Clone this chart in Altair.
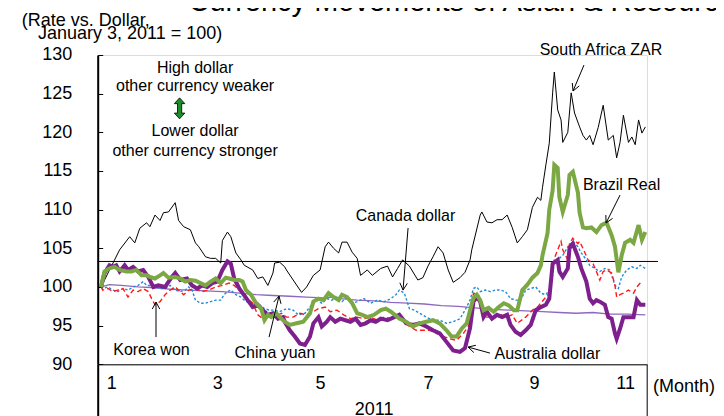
import math
import altair as alt
import pandas as pd

FONT = "Liberation Sans"

# ---------------- data (x = day of year 2011, y = index, Jan 3 2011 = 100) ----------------
months = ["1", "3", "5", "7", "9", "11"]
month_days = [9, 72, 133, 197, 260, 314]
y_ticks = [90, 95, 100, 105, 110, 115, 120, 125, 130]
reference_level = 103.3

zar_day = [3, 11, 14, 20, 23, 26, 30, 32, 35, 38, 40, 43, 46, 47, 49, 52, 56, 59, 61, 65, 68, 71, 74, 75, 78, 80,
           83, 86, 88, 93, 96, 99, 102, 105, 106, 109, 112, 113, 117, 122, 125, 129, 133, 136, 138, 141, 144, 146,
           149, 152, 155, 157, 161, 164, 169, 173, 176, 179, 182, 186, 191, 194, 197, 200, 203, 206, 209, 212, 216,
           219, 222, 223, 228, 229, 232, 235, 238, 241, 244, 247, 250, 253, 256, 259, 262, 264, 265, 267, 269, 271,
           272, 274, 276, 277, 280, 282, 284, 287, 289, 291, 293, 295, 298, 301, 304, 307, 309, 311, 313, 316, 318,
           320, 322, 324, 326]
zar_val = [100.0, 103.5, 104.8, 106.5, 105.7, 107.6, 108.3, 107.8, 109.3, 108.6, 109.6, 109.7, 110.6, 110.9, 108.6,
           107.8, 107.4, 105.7, 105.2, 103.9, 103.7, 103.7, 103.1, 106.0, 107.1, 106.5, 104.4, 103.5, 102.8, 102.2,
           101.1, 101.3, 100.2, 101.8, 103.1, 103.2, 102.6, 102.2, 100.9, 99.3, 100.0, 101.5, 102.2, 105.2, 105.8,
           105.0, 104.4, 105.8, 105.8, 104.5, 103.7, 101.5, 102.2, 101.5, 102.4, 102.7, 101.3, 102.4, 103.5, 102.7,
           100.9, 101.2, 102.7, 103.9, 105.2, 104.4, 102.2, 100.6, 101.2, 101.9, 103.5, 104.8, 109.3, 109.7, 108.4,
           108.3, 108.7, 108.7, 109.3, 107.7, 105.7, 106.5, 107.4, 110.3, 111.6, 111.2, 112.9, 115.8, 118.6, 125.1,
           127.8, 122.9, 121.6, 118.7, 120.0, 125.1, 122.5, 120.7, 119.6, 119.0, 119.6, 118.4, 120.6, 123.5, 119.0,
           119.6, 116.7, 118.7, 122.2, 118.7, 119.4, 118.4, 121.6, 119.9, 120.7]

brl_day = [3, 5, 8, 11, 14, 18, 21, 24, 27, 30, 32, 35, 38, 40, 43, 47, 50, 53, 56, 59, 62, 65, 68, 71, 74, 77, 79,
           82, 85, 87, 89, 92, 95, 98, 100, 102, 104, 107, 109, 112, 115, 119, 123, 127, 129, 132, 135, 138, 141, 144,
           146, 149, 152, 155, 158, 161, 165, 169, 172, 175, 179, 180, 184, 188, 192, 196, 200, 204, 208, 211, 214,
           217, 220, 222, 224, 226, 228, 230, 233, 236, 239, 242, 245, 248, 250, 253, 256, 259, 262, 264, 265, 268,
           269, 271, 272, 274, 275, 277, 280, 281, 283, 286, 287, 289, 291, 294, 297, 300, 303, 306, 308, 310, 312,
           314, 317, 319, 322, 324, 326]
brl_val = [100.0, 102.0, 102.4, 102.6, 102.2, 102.0, 102.0, 102.2, 101.5, 101.5, 101.3, 101.1, 101.5, 101.8, 101.2,
           101.3, 101.1, 100.7, 100.9, 100.8, 100.5, 100.2, 100.7, 101.1, 100.5, 101.2, 101.1, 100.9, 100.9, 100.7,
           99.6, 99.0, 97.9, 97.2, 95.7, 96.4, 96.1, 96.6, 96.1, 95.5, 95.1, 95.3, 95.5, 96.6, 98.1, 98.5, 98.3, 99.2,
           98.7, 98.3, 99.0, 98.7, 97.9, 96.6, 96.4, 96.1, 96.4, 97.0, 97.2, 96.8, 96.1, 95.9, 95.5, 94.9, 95.3, 95.5,
           95.7, 95.3, 94.4, 93.6, 93.6, 94.6, 95.3, 97.0, 98.6, 99.0, 98.3, 97.0, 97.3, 96.8, 97.4, 97.9, 97.6, 97.0,
           97.0, 99.6, 100.3, 101.2, 101.8, 102.8, 104.1, 107.0, 110.0, 112.5, 115.8, 115.4, 111.6, 109.7, 111.9,
           114.5, 114.9, 112.2, 109.6, 107.7, 107.6, 107.7, 107.1, 108.0, 108.3, 106.7, 105.2, 101.9, 104.1, 105.7,
           106.1, 105.7, 108.0, 106.1, 107.1]

aud_day = [3, 5, 8, 10, 12, 14, 17, 19, 22, 25, 28, 31, 34, 37, 41, 45, 47, 50, 54, 57, 60, 63, 66, 69, 72, 75, 78,
           80, 82, 85, 87, 90, 93, 96, 99, 102, 105, 108, 111, 112, 115, 118, 121, 124, 127, 129, 132, 134, 137, 139,
           142, 145, 148, 151, 154, 157, 160, 163, 166, 169, 173, 177, 180, 184, 188, 192, 196, 200, 204, 208, 212,
           216, 219, 222, 224, 226, 228, 230, 232, 235, 238, 241, 244, 246, 249, 252, 255, 258, 261, 264, 267, 269,
           271, 274, 275, 277, 280, 281, 283, 286, 288, 291, 293, 295, 297, 299, 302, 304, 306, 308, 309, 311, 313,
           316, 319, 321, 323, 326]
aud_val = [100.0, 101.8, 102.8, 102.6, 102.8, 102.0, 102.8, 102.2, 102.6, 102.0, 102.2, 101.3, 100.0, 100.2, 100.0,
           101.3, 101.8, 100.9, 101.1, 100.2, 99.8, 100.2, 100.0, 100.5, 100.7, 102.2, 103.3, 103.0, 101.1, 99.8,
           99.2, 98.3, 97.4, 97.7, 97.0, 96.4, 96.6, 95.9, 96.1, 95.5, 94.4, 93.6, 92.7, 92.5, 93.6, 95.3, 96.1, 94.9,
           95.5, 96.1, 95.5, 95.9, 95.7, 95.5, 95.9, 95.1, 95.3, 95.7, 95.5, 95.9, 95.7, 96.1, 96.4, 95.3, 95.1, 95.3,
           94.9, 94.4, 94.0, 92.9, 91.8, 91.6, 92.1, 94.7, 98.1, 98.7, 98.1, 96.1, 96.8, 95.9, 96.4, 96.1, 96.4, 95.1,
           94.2, 93.8, 94.4, 95.1, 97.0, 97.4, 97.7, 98.5, 103.0, 103.5, 102.0, 101.3, 102.4, 105.0, 105.6, 103.9,
           102.4, 100.7, 98.5, 97.9, 98.3, 98.1, 97.7, 96.1, 95.9, 94.0, 93.3, 94.6, 96.1, 96.1, 96.1, 98.3, 97.7,
           97.7]

krw_day = [3, 4, 7, 10, 13, 16, 19, 22, 25, 28, 31, 33, 35, 38, 41, 44, 47, 50, 52, 55, 59, 63, 67, 71, 75, 79, 82,
           85, 87, 90, 93, 96, 99, 102, 106, 110, 113, 117, 121, 125, 129, 132, 136, 139, 143, 147, 151, 155, 159,
           163, 167, 171, 175, 179, 182, 186, 190, 194, 198, 202, 206, 210, 214, 218, 221, 224, 227, 229, 231, 235,
           239, 243, 247, 250, 255, 259, 262, 267, 269, 271, 272, 274, 276, 277, 280, 281, 283, 286, 287, 289, 292,
           295, 297, 299, 301, 303, 306, 308, 309, 311, 313, 316, 319, 321, 323, 324]
krw_val = [100.0, 99.6, 99.8, 99.4, 99.6, 99.8, 98.7, 99.6, 99.4, 99.8, 99.4, 98.5, 97.7, 98.1, 99.0, 99.6, 100.0,
           99.4, 99.0, 99.6, 99.8, 99.4, 99.6, 100.0, 100.2, 100.5, 100.2, 99.6, 99.4, 98.5, 97.9, 96.4, 95.9, 96.4,
           96.1, 96.6, 96.1, 96.1, 96.6, 96.4, 96.8, 97.2, 97.4, 96.8, 97.0, 96.4, 95.9, 96.1, 95.9, 96.1, 95.7, 96.1,
           95.9, 96.4, 95.7, 94.9, 94.4, 94.4, 94.4, 94.0, 93.6, 93.3, 93.1, 94.0, 94.9, 99.2, 99.0, 97.0, 96.1, 96.1,
           96.6, 96.1, 96.4, 95.3, 96.1, 97.0, 97.4, 98.7, 99.2, 101.5, 103.7, 104.8, 105.9, 104.8, 103.5, 105.6,
           106.3, 105.6, 105.9, 105.0, 103.5, 103.0, 102.0, 100.9, 102.0, 102.2, 101.8, 100.2, 98.7, 99.0, 99.2,
           99.6, 99.2, 100.0, 100.5, 100.7]

cad_day = [3, 4, 7, 10, 13, 16, 19, 22, 25, 28, 30, 33, 35, 38, 41, 44, 47, 50, 53, 55, 57, 59, 62, 65, 68, 71, 74,
           76, 78, 80, 83, 86, 88, 91, 94, 97, 100, 103, 106, 109, 113, 117, 120, 124, 128, 131, 134, 137, 140, 143,
           146, 149, 152, 155, 159, 163, 167, 171, 175, 178, 180, 183, 186, 189, 192, 196, 200, 204, 208, 212, 216,
           219, 222, 224, 226, 228, 231, 234, 237, 240, 243, 246, 249, 252, 255, 258, 261, 264, 267, 269, 271, 274,
           277, 280, 283, 286, 288, 291, 293, 296, 299, 302, 305, 308, 310, 312, 315, 318, 321, 323, 326]
cad_val = [100.0, 99.8, 100.0, 99.6, 99.4, 99.8, 99.6, 100.0, 100.2, 100.7, 100.2, 100.2, 100.0, 99.8, 99.8, 100.2,
           99.6, 99.4, 99.6, 100.0, 99.6, 98.3, 97.9, 97.9, 98.1, 98.3, 98.3, 99.0, 99.4, 99.6, 99.0, 98.7, 98.3,
           97.9, 97.7, 97.7, 97.2, 97.0, 97.0, 96.8, 97.2, 97.0, 96.4, 96.6, 97.7, 98.3, 97.9, 98.5, 98.3, 98.7, 98.1,
           98.7, 97.9, 98.1, 98.5, 97.9, 98.3, 98.1, 98.5, 99.0, 99.6, 99.2, 97.2, 97.0, 96.6, 96.1, 95.7, 95.7, 95.3,
           95.5, 95.9, 97.0, 98.3, 99.8, 100.0, 99.4, 99.6, 99.4, 99.6, 99.6, 99.4, 98.5, 98.3, 98.3, 99.6, 99.8,
           100.0, 99.2, 99.0, 99.6, 103.0, 103.5, 104.1, 105.2, 105.9, 105.2, 104.4, 103.5, 102.8, 102.4, 102.0,
           102.4, 102.2, 100.2, 99.8, 101.3, 102.2, 102.6, 102.4, 102.8, 102.4]

cny_day = [3, 8, 15, 25, 35, 45, 55, 65, 75, 85, 95, 105, 115, 125, 135, 140, 145, 155, 165, 175, 185, 195, 205,
           215, 225, 235, 245, 255, 265, 275, 285, 295, 305, 315, 326]
cny_val = [100.0, 100.3, 100.2, 100.0, 99.9, 99.7, 99.6, 99.5, 99.4, 99.2, 99.0, 98.9, 98.8, 98.7, 98.6, 98.7,
           98.5, 98.3, 98.2, 98.0, 97.9, 97.8, 97.6, 97.5, 97.3, 97.1, 97.0, 96.9, 96.8, 96.7, 96.6, 96.7, 96.5,
           96.5, 96.4]

# ---------------- annotations ----------------
ann_text = ["South Africa ZAR", "Brazil Real", "Canada dollar", "Korea won", "China yuan", "Australia dollar",
            "High dollar", "other currency weaker", "Lower dollar", "other currency stronger"]
ann_day = [299.7, 311.9, 183.7, 32.9, 106.2, 267.9, 58.8, 58.8, 58.8, 58.8]
ann_val = [130.65, 113.19, 109.18, 91.84, 91.45, 91.32, 128.26, 125.93, 120.17, 117.59]

# arrow: (tail day, tail value, head day, head value)
arrows = [(289.6, 128.7, 283.1, 125.35),
          (311.0, 111.89, 302.7, 108.27),
          (185.2, 107.62, 182.2, 99.6),
          (35.6, 93.52, 35.6, 98.05),
          (102.7, 93.52, 108.6, 98.82),
          (233.8, 91.45, 220.8, 92.23)]

# ---------------- layout ----------------
X_DOMAIN = [1, 327]
Y_DOMAIN = [90, 130]
W = 549.3
H = 309.3
PX_DAY = W / (X_DOMAIN[1] - X_DOMAIN[0])
PX_VAL = H / (Y_DOMAIN[1] - Y_DOMAIN[0])

xs = alt.Scale(domain=X_DOMAIN, nice=False, zero=False)
ys = alt.Scale(domain=Y_DOMAIN, nice=False, zero=False)


def series_df(days, vals):
    return pd.DataFrame({"day": days, "value": vals})


x_axis_box = alt.Axis(values=X_DOMAIN, orient="bottom", labels=False, title=None, grid=False,
                      domain=True, domainColor="black", domainWidth=1,
                      ticks=True, tickSize=70, tickColor="black",
                      tickWidth=alt.condition(f"datum.value <= {X_DOMAIN[0]}", alt.value(2), alt.value(1)))
y_axis_labels = alt.Axis(values=y_ticks, orient="left", ticks=False, labelPadding=26, labelFontSize=18,
                         labelFont=FONT, labelColor="black", labelBaseline="middle", domain=True,
                         domainColor="black", domainWidth=2, grid=False, title=None)

label_expr = " : ".join(f"datum.value == {d} ? '{m}'" for d, m in zip(month_days, months)) + " : ''"
x_axis_labels = alt.Axis(values=month_days, labelExpr=label_expr, orient="bottom", ticks=False, domain=False,
                         labelPadding=24, labelBaseline="alphabetic", labelFontSize=18, labelFont=FONT,
                         labelColor="black", labelFlush=False, labelOverlap=False, grid=False, title=None)
y_axis_ticks = alt.Axis(values=y_ticks, orient="left", offset=-5, labels=False, domain=False, ticks=True,
                        tickSize=5, tickColor="black", tickWidth=1, grid=False, title=None)

# reference line (carries the secondary axes)
rule_df = pd.DataFrame({"start": [X_DOMAIN[0]], "end": [333.5], "level": [reference_level]})
rule = alt.Chart(rule_df).mark_rule(color="black", strokeWidth=1).encode(
    x=alt.X("start:Q", scale=xs, axis=x_axis_labels),
    x2="end:Q",
    y=alt.Y("level:Q", scale=ys, axis=y_axis_ticks),
)


def line(days, vals, color, width, dash=None, axes=False):
    kw = dict(color=color, strokeWidth=width, clip=False)
    if dash:
        kw["strokeDash"] = dash
    return alt.Chart(series_df(days, vals)).mark_line(**kw).encode(
        x=alt.X("day:Q", scale=xs, axis=x_axis_box if axes else None),
        y=alt.Y("value:Q", scale=ys, axis=y_axis_labels if axes else None),
    )


zar = line(zar_day, zar_val, "black", 1, axes=True)
cny = line(cny_day, cny_val, "#8E68BE", 1.3)
cad = line(cad_day, cad_val, "#1E8CDC", 1.4, dash=[2.5, 2])
krw = line(krw_day, krw_val, "#FF1A1A", 1.4, dash=[5, 3])
aud = line(aud_day, aud_val, "#7D1F8C", 4)
brl = line(brl_day, brl_val, "#7BA843", 4)

# arrows
segs = []
for d0, v0, d1, v1 in arrows:
    segs.append((d0, v0, d1, v1))
    dx = (d0 - d1) * PX_DAY
    dy = -(v0 - v1) * PX_VAL
    ang = math.atan2(dy, dx)
    for s in (1, -1):
        a = ang + s * math.radians(28)
        px = 8 * math.cos(a)
        py = 8 * math.sin(a)
        segs.append((d1, v1, d1 + px / PX_DAY, v1 - py / PX_VAL))
seg_df = pd.DataFrame(segs, columns=["d0", "v0", "d1", "v1"])
arrow_layer = alt.Chart(seg_df).mark_rule(color="black", strokeWidth=1).encode(
    x=alt.X("d0:Q", scale=xs, axis=None), y=alt.Y("v0:Q", scale=ys, axis=None),
    x2="d1:Q", y2="v1:Q")

ann_df = pd.DataFrame({"text": ann_text, "day": ann_day, "value": ann_val})
ann_layer = alt.Chart(ann_df).mark_text(font=FONT, fontSize=16, color="black", align="center",
                                         baseline="middle").encode(
    x=alt.X("day:Q", scale=xs, axis=None), y=alt.Y("value:Q", scale=ys, axis=None), text="text:N")

ARROW_PATH = ("M0,-1 L0.5,-0.45 L0.2,-0.45 L0.2,0.45 L0.5,0.45 L0,1 L-0.5,0.45 L-0.2,0.45 "
              "L-0.2,-0.45 L-0.5,-0.45 Z")
icon = alt.Chart(pd.DataFrame({"day": [49.6], "value": [123.1]})).mark_point(
    shape=ARROW_PATH, size=441, filled=True, fill="#1E8C2A", stroke="black", strokeWidth=0.8, opacity=1
).encode(x=alt.X("day:Q", scale=xs, axis=None), y=alt.Y("value:Q", scale=ys, axis=None))


def pixel_text(txt, x, y, size, align="left"):
    return alt.Chart(pd.DataFrame({"t": [txt]})).mark_text(
        font=FONT, fontSize=size, color="black", align=align, baseline="alphabetic"
    ).encode(x=alt.value(x), y=alt.value(y), text="t:N")


title = pixel_text("Currency Movements of Asian & Resource Countries", 90.8, -44, 29)
ytitle1 = pixel_text("(Rate vs. Dollar,", -76, -29, 18)
ytitle2 = pixel_text("January 3, 2011 = 100)", -59.7, -15.5, 18)
month_title = pixel_text("(Month)", 555.3, 337, 18)
year_label = pixel_text("2011", 276.5, 359.6, 18, align="center")

chart = alt.layer(
    rule, zar, cny, cad, krw, aud, brl, arrow_layer, ann_layer, icon,
    title, ytitle1, ytitle2, month_title, year_label,
).resolve_axis(x="independent", y="independent").properties(
    width=W, height=H, autosize="none",
    padding={"left": 89.7, "top": 47, "right": 69, "bottom": 52},
    background="white",
).configure_view(strokeWidth=0).configure(font=FONT)

chart.save("out.html", embed_options={"renderer": "svg", "actions": False})
